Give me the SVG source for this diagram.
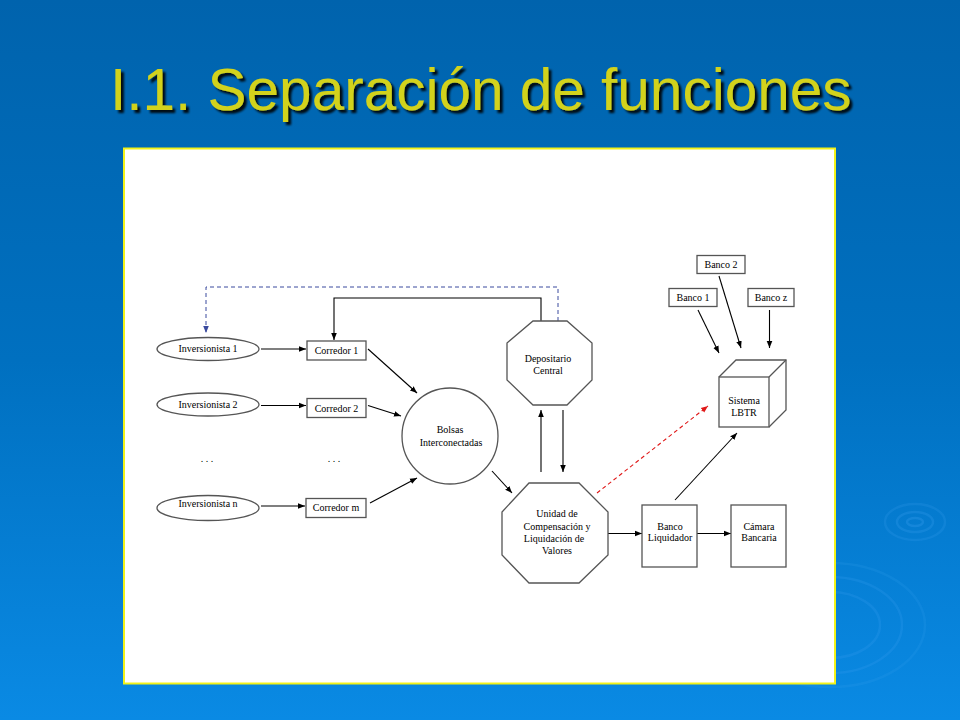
<svg xmlns="http://www.w3.org/2000/svg" width="960" height="720" viewBox="0 0 960 720">
<defs>
<linearGradient id="bg" x1="0" y1="0" x2="0" y2="1">
<stop offset="0" stop-color="#0063ad"/>
<stop offset="0.5" stop-color="#0070c0"/>
<stop offset="1" stop-color="#0a8ae4"/>
</linearGradient>
<marker id="ah" viewBox="0 0 10 10" refX="10" refY="5" markerWidth="7" markerHeight="7" markerUnits="userSpaceOnUse" orient="auto">
<path d="M0,1 L10,5 L0,9 z" fill="#000"/>
</marker>
<marker id="ahb" viewBox="0 0 10 10" refX="10" refY="5" markerWidth="7" markerHeight="7" markerUnits="userSpaceOnUse" orient="auto">
<path d="M0,1 L10,5 L0,9 z" fill="#3a4a9e"/>
</marker>
<marker id="ahr" viewBox="0 0 10 10" refX="10" refY="5" markerWidth="7" markerHeight="7" markerUnits="userSpaceOnUse" orient="auto">
<path d="M0,1 L10,5 L0,9 z" fill="#e01818"/>
</marker>
<filter id="sh" x="-5%" y="-20%" width="110%" height="140%">
<feGaussianBlur in="SourceAlpha" stdDeviation="1"/>
<feOffset dx="2.5" dy="2.5"/>
<feComponentTransfer><feFuncA type="linear" slope="0.9"/></feComponentTransfer>
<feMerge><feMergeNode/><feMergeNode in="SourceGraphic"/></feMerge>
</filter>
</defs>
<style>
.shape{fill:#fff;stroke:#555;stroke-width:1.3}
.lbl{font-family:"Liberation Serif","Times New Roman",serif;font-size:10px;fill:#000;text-anchor:middle}
.c{fill:none;stroke:#000;stroke-width:1.1}
.rip{fill:none;stroke:#3aa0f0;stroke-width:2.5}
</style>
<rect width="960" height="720" fill="url(#bg)"/>
<g id="ripples">
<ellipse class="rip" cx="915" cy="522" rx="30" ry="18" stroke-opacity="0.2"/>
<ellipse class="rip" cx="915" cy="522" rx="18" ry="10" stroke-opacity="0.25"/>
<ellipse class="rip" cx="915" cy="522" rx="8" ry="4" stroke-opacity="0.3"/>
<ellipse class="rip" cx="830" cy="625" rx="95" ry="62" stroke-opacity="0.18"/>
<ellipse class="rip" cx="830" cy="625" rx="72" ry="48" stroke-opacity="0.22"/>
<ellipse class="rip" cx="830" cy="625" rx="50" ry="33" stroke-opacity="0.22"/>
</g>
<text x="110" y="110" font-family="'Liberation Sans',Arial,sans-serif" font-size="58.5" fill="#d2d21a" filter="url(#sh)">I.1. Separación de funciones</text>
<rect x="124" y="148.5" width="711" height="535" fill="#fff" stroke="#f2f21a" stroke-width="2"/>

<g id="connectors">
<path class="c" d="M261,349 H306" marker-end="url(#ah)"/>
<path class="c" d="M261,405.5 H306" marker-end="url(#ah)"/>
<path class="c" d="M261,506 H305" marker-end="url(#ah)"/>
<path class="c" d="M368,349 L417,393" marker-end="url(#ah)"/>
<path class="c" d="M368,405.5 L401,416" marker-end="url(#ah)"/>
<path class="c" d="M370,503 L417,478" marker-end="url(#ah)"/>
<path class="c" d="M541,321 V298 H334 V340" marker-end="url(#ah)"/>
<path d="M558,321 V287 H206 V333" fill="none" stroke="#3a4a9e" stroke-width="1" stroke-dasharray="4,3" marker-end="url(#ahb)"/>
<path class="c" d="M492,471 L512,493" marker-end="url(#ah)"/>
<path class="c" d="M541,472 V410" marker-end="url(#ah)"/>
<path class="c" d="M563,410 V472" marker-end="url(#ah)"/>
<path d="M597,493 L708,406" fill="none" stroke="#e01818" stroke-width="1.1" stroke-dasharray="4,3" marker-end="url(#ahr)"/>
<path class="c" d="M608,533.5 H642" marker-end="url(#ah)"/>
<path class="c" d="M697,533.5 H731" marker-end="url(#ah)"/>
<path class="c" d="M675,500 L737,433" marker-end="url(#ah)"/>
<path class="c" d="M698,310 L719,353" marker-end="url(#ah)"/>
<path class="c" d="M719,276 L741,348" marker-end="url(#ah)"/>
<path class="c" d="M769.5,310 V348" marker-end="url(#ah)"/>
</g>

<g id="inv1"><ellipse class="shape" cx="208" cy="349" rx="51" ry="11.5"/><text class="lbl" x="208" y="352">Inversionista 1</text></g>
<g id="inv2"><ellipse class="shape" cx="208" cy="404.5" rx="51" ry="11.5"/><text class="lbl" x="208" y="407.5">Inversionista 2</text></g>
<g id="invn"><ellipse class="shape" cx="208" cy="508" rx="51" ry="12.5"/><text class="lbl" x="208" y="507">Inversionista n</text></g>
<g id="dots1"><text class="lbl" x="207" y="462">. . .</text></g>
<g id="dots2"><text class="lbl" x="334" y="462">. . .</text></g>
<g id="cor1"><rect class="shape" x="307" y="341" width="59" height="19"/><text class="lbl" x="336.5" y="354">Corredor 1</text></g>
<g id="cor2"><rect class="shape" x="307" y="398.5" width="59" height="19"/><text class="lbl" x="336.5" y="411.5">Corredor 2</text></g>
<g id="corm"><rect class="shape" x="306" y="498.5" width="60" height="19"/><text class="lbl" x="336" y="511">Corredor m</text></g>
<g id="bolsas"><circle class="shape" cx="450" cy="436" r="48"/><text class="lbl" x="450" y="433">Bolsas</text><text class="lbl" x="451" y="446">Interconectadas</text></g>
<g id="depositario"><polygon class="shape" points="533,321 567,321 592,343 592,380 567,405 533,405 507,380 507,343"/><text class="lbl" x="548" y="362">Depositario</text><text class="lbl" x="548" y="374">Central</text></g>
<g id="unidad"><polygon class="shape" points="529,483 579,483 608,512 608,555 579,583 529,583 502,555 502,512"/><text class="lbl" x="557" y="517">Unidad de</text><text class="lbl" x="557" y="530">Compensación y</text><text class="lbl" x="554" y="542">Liquidación de</text><text class="lbl" x="557" y="554">Valores</text></g>
<g id="bancoliq"><rect class="shape" x="642" y="505" width="55" height="62"/><text class="lbl" x="670" y="530">Banco</text><text class="lbl" x="670" y="541">Liquidador</text></g>
<g id="camara"><rect class="shape" x="731" y="505" width="55" height="62"/><text class="lbl" x="759" y="530">Cámara</text><text class="lbl" x="759" y="541">Bancaria</text></g>
<g id="sistema"><path class="shape" d="M719,377 L736,360 H786 V410 L769,427"/><path class="shape" fill="none" d="M769,377 L786,360"/><rect class="shape" x="719" y="377" width="50" height="50"/><text class="lbl" x="744" y="404">Sistema</text><text class="lbl" x="744" y="416">LBTR</text></g>
<g id="banco1"><rect class="shape" x="669" y="288.5" width="48" height="18"/><text class="lbl" x="693" y="301">Banco 1</text></g>
<g id="banco2"><rect class="shape" x="697" y="255.5" width="48" height="18"/><text class="lbl" x="721" y="268">Banco 2</text></g>
<g id="bancoz"><rect class="shape" x="748" y="288.5" width="46" height="18"/><text class="lbl" x="771" y="301">Banco z</text></g>
</svg>
